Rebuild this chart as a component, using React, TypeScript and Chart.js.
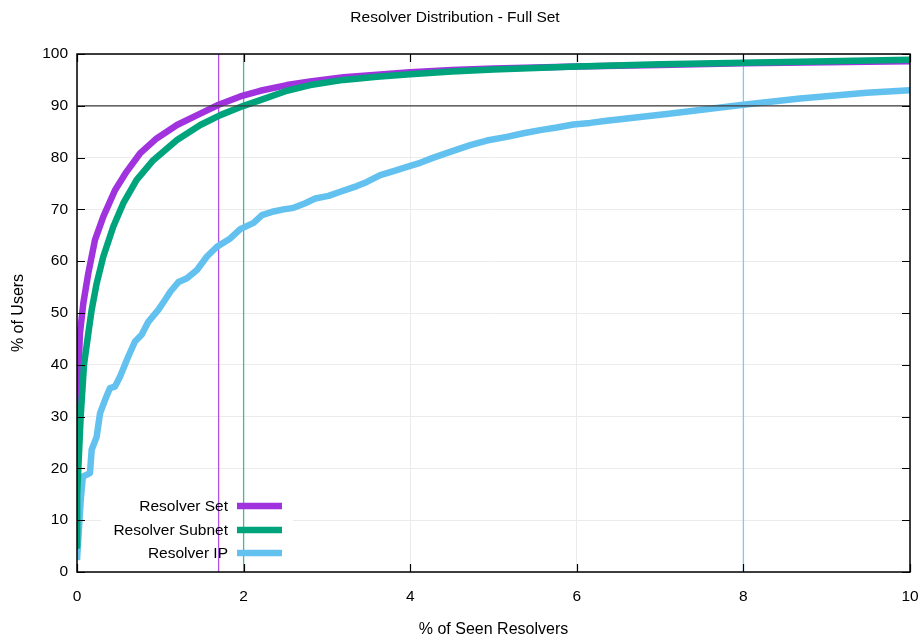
import React, { useEffect, useRef } from 'react';
import { Chart, registerables } from 'chart.js';

Chart.register(...registerables);

const TITLE = 'Resolver Distribution - Full Set';
const X_LABEL = '% of Seen Resolvers';
const Y_LABEL = '% of Users';
const SERIES_NAMES = ['Resolver Set', 'Resolver Subnet', 'Resolver IP'];
const SERIES_COLORS = ['#a033de', '#00a47c', '#63c1ef'];
const THRESHOLD_COLORS = ['#b050e8', '#3dbb9a', '#7ccbf0'];

const X_MIN = 0;
const X_MAX = 10;
const X_STEP = 2;
const Y_MIN = 0;
const Y_MAX = 100;
const Y_STEP = 10;

const setX = [0, 0.005, 0.015, 0.036, 0.076, 0.136, 0.216, 0.316, 0.456, 0.596, 0.756, 0.956, 1.2, 1.48, 1.7, 1.96, 2.2, 2.52, 2.8, 3.2, 3.6, 4.0, 4.5, 5.0, 5.5, 6.0, 7.0, 8.0, 9.0, 10];
const setY = [23, 30, 38, 46.1, 51.9, 57.7, 64.1, 68.6, 73.7, 77.3, 80.8, 83.7, 86.3, 88.5, 90.2, 91.8, 92.9, 94.0, 94.7, 95.5, 96.0, 96.5, 96.9, 97.2, 97.4, 97.6, 97.9, 98.2, 98.4, 98.6];

const subnetX = [0, 0.002, 0.016, 0.044, 0.084, 0.136, 0.176, 0.236, 0.316, 0.436, 0.556, 0.716, 0.916, 1.2, 1.48, 1.72, 2.0, 2.2, 2.52, 2.8, 3.2, 3.6, 4.0, 4.5, 5.0, 5.5, 6.0, 7.0, 8.0, 9.0, 10];
const subnetY = [5, 15, 20, 30, 40, 46.1, 50.6, 55.7, 60.9, 66.7, 71.2, 75.7, 79.5, 83.4, 86.3, 88.2, 90.0, 91.1, 92.9, 94.0, 95.0, 95.6, 96.1, 96.6, 97.0, 97.3, 97.6, 98.0, 98.3, 98.6, 98.9];

const ipX = [0, 0.02, 0.045, 0.07, 0.156, 0.176, 0.236, 0.276, 0.336, 0.396, 0.456, 0.516, 0.616, 0.696, 0.776, 0.856, 0.976, 1.056, 1.12, 1.22, 1.32, 1.44, 1.56, 1.68, 1.84, 1.96, 2.12, 2.22, 2.36, 2.48, 2.6, 2.74, 2.86, 3.02, 3.16, 3.36, 3.48, 3.64, 3.8, 4.0, 4.12, 4.28, 4.48, 4.72, 4.92, 5.16, 5.36, 5.56, 5.76, 5.96, 6.16, 6.36, 6.52, 7.08, 8.0, 8.68, 9.48, 10];
const ipY = [2.3, 7.5, 13.9, 18.4, 19.1, 23.6, 26.1, 30.6, 33.2, 35.5, 35.8, 37.7, 41.6, 44.5, 45.8, 48.3, 50.6, 52.5, 54.1, 56.0, 56.7, 58.3, 60.9, 62.8, 64.4, 66.2, 67.4, 68.9, 69.6, 70.0, 70.3, 71.2, 72.1, 72.6, 73.4, 74.5, 75.3, 76.6, 77.4, 78.4, 79.0, 80.0, 81.1, 82.4, 83.3, 84.0, 84.7, 85.3, 85.8, 86.4, 86.7, 87.1, 87.4, 88.4, 90.2, 91.4, 92.5, 93.0];

const THRESHOLD_Y = 90;
const THRESHOLD_X = [1.7, 2.0, 8.0];

const FONT = '"Liberation Sans", Arial, Helvetica, sans-serif';

const toPts = (xs: number[], ys: number[]) => xs.map((x, i) => ({ x, y: ys[i] }));

const insideLegend = {
  id: 'insideLegend',
  beforeDatasetsDraw(chart: any) {
    const { ctx, chartArea } = chart;
    ctx.save();
    ctx.fillStyle = '#ffffff';
    ctx.fillRect(chartArea.left + 24, chartArea.bottom - 80, 192, 76);
    ctx.restore();
  },
  afterDatasetsDraw(chart: any) {
    const { ctx, chartArea } = chart;
    const textRight = chartArea.left + 151;
    const lineStart = chartArea.left + 160;
    const lineEnd = chartArea.left + 205;
    const rows = [chartArea.bottom - 66, chartArea.bottom - 42, chartArea.bottom - 19];
    ctx.save();
    ctx.font = `15.5px ${FONT}`;
    ctx.textAlign = 'right';
    ctx.textBaseline = 'middle';
    SERIES_NAMES.forEach((name, i) => {
      ctx.fillStyle = '#000';
      ctx.fillText(name, textRight, rows[i] + 1);
      ctx.strokeStyle = SERIES_COLORS[i];
      ctx.lineWidth = 6.5;
      ctx.lineCap = 'butt';
      ctx.beginPath();
      ctx.moveTo(lineStart, rows[i]);
      ctx.lineTo(lineEnd, rows[i]);
      ctx.stroke();
    });
    ctx.restore();
  },
};

const frame = {
  id: 'frame',
  afterDraw(chart: any) {
    const { ctx, chartArea, scales } = chart;
    const { left, right, top, bottom } = chartArea;
    const len = 8;
    ctx.save();
    ctx.strokeStyle = '#000';
    ctx.lineWidth = 1.2;
    ctx.beginPath();
    scales.x.ticks.forEach((t: any) => {
      const px = Math.round(scales.x.getPixelForValue(t.value)) + 0.5;
      ctx.moveTo(px, bottom);
      ctx.lineTo(px, bottom - len);
      ctx.moveTo(px, top);
      ctx.lineTo(px, top + len);
    });
    scales.y.ticks.forEach((t: any) => {
      const py = Math.round(scales.y.getPixelForValue(t.value)) + 0.5;
      ctx.moveTo(left, py);
      ctx.lineTo(left + len, py);
      ctx.moveTo(right, py);
      ctx.lineTo(right - len, py);
    });
    ctx.stroke();
    ctx.lineWidth = 1.5;
    ctx.strokeRect(left, top, right - left, bottom - top);
    ctx.restore();
  },
};

export default function App() {
  const ref = useRef<HTMLCanvasElement | null>(null);

  useEffect(() => {
    document.body.style.margin = '0';
    const canvas = ref.current;
    if (!canvas) return;

    const curves = [
      { name: SERIES_NAMES[0], pts: toPts(setX, setY), color: SERIES_COLORS[0], order: 2 },
      { name: SERIES_NAMES[1], pts: toPts(subnetX, subnetY), color: SERIES_COLORS[1], order: 1 },
      { name: SERIES_NAMES[2], pts: toPts(ipX, ipY), color: SERIES_COLORS[2], order: 3 },
    ];

    const datasets: any[] = curves.map((c) => ({
      label: c.name,
      data: c.pts,
      showLine: true,
      borderColor: c.color,
      backgroundColor: c.color,
      borderWidth: 6.5,
      pointRadius: 0,
      tension: 0,
      order: c.order,
      borderJoinStyle: 'round',
    }));

    THRESHOLD_X.forEach((xv, i) => {
      datasets.push({
        label: `threshold-${i}`,
        data: [{ x: xv, y: Y_MIN }, { x: xv, y: Y_MAX }],
        showLine: true,
        borderColor: THRESHOLD_COLORS[i],
        borderWidth: 1.3,
        pointRadius: 0,
        order: 4,
      });
    });

    datasets.push({
      label: 'threshold-y',
      data: [{ x: X_MIN, y: THRESHOLD_Y }, { x: X_MAX, y: THRESHOLD_Y }],
      showLine: true,
      borderColor: '#3a3a3a',
      borderWidth: 1.2,
      pointRadius: 0,
      order: 0,
    });

    const chart = new Chart(canvas, {
      type: 'scatter',
      data: { datasets },
      plugins: [insideLegend, frame],
      options: {
        animation: false,
        responsive: true,
        maintainAspectRatio: false,
        layout: { padding: { left: 0, right: 10, top: 0, bottom: 0 } },
        plugins: {
          legend: { display: false },
          tooltip: { enabled: false },
          title: {
            display: true,
            text: TITLE,
            color: '#000',
            font: { family: FONT, size: 15.5, weight: 'normal' },
            padding: { top: 8, bottom: 27.4 },
          },
        },
        scales: {
          x: {
            type: 'linear',
            min: X_MIN,
            max: X_MAX,
            ticks: {
              stepSize: X_STEP,
              color: '#000',
              padding: 15,
              font: { family: FONT, size: 15.5 },
            },
            grid: { color: '#ebebeb', lineWidth: 1, drawTicks: false },
            border: { display: false },
            title: {
              display: true,
              text: X_LABEL,
              color: '#000',
              font: { family: FONT, size: 16 },
              padding: { top: 0, bottom: 3 },
            },
            afterFit: (s: any) => { s.height = 70; s.paddingLeft = 0; s.paddingRight = 0; },
          },
          y: {
            type: 'linear',
            min: Y_MIN,
            max: Y_MAX,
            ticks: {
              stepSize: Y_STEP,
              color: '#000',
              padding: 9,
              font: { family: FONT, size: 15.5 },
            },
            grid: { color: '#ebebeb', lineWidth: 1, drawTicks: false },
            border: { display: false },
            title: {
              display: true,
              text: Y_LABEL,
              color: '#000',
              font: { family: FONT, size: 16 },
              padding: { top: 9, bottom: 0 },
            },
            afterFit: (s: any) => { s.width = 77; },
          },
        },
      },
    });

    return () => chart.destroy();
  }, []);

  return (
    <div style={{ position: 'relative', width: 920, height: 642 }}>
      <canvas ref={ref} />
    </div>
  );
}
